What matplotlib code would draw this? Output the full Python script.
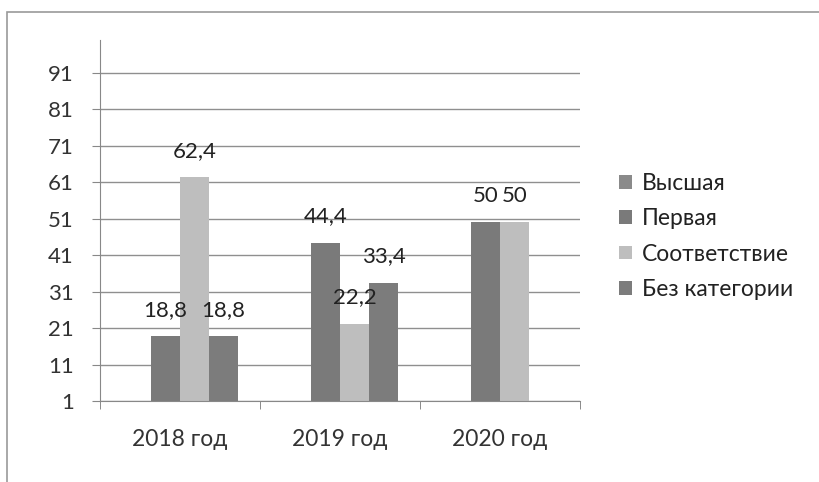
import numpy as np
import matplotlib.pyplot as plt
from matplotlib.patches import Rectangle

plt.rcParams['font.family'] = ['Lato', 'DejaVu Sans']

years = ['2018 год', '2019 год', '2020 год']
series = ['Высшая', 'Первая', 'Соответствие', 'Без категории']
vysshaya = [0, 0, 0]
pervaya = [18.8, 44.4, 50]
sootv = [62.4, 22.2, 50]
bez_kat = [18.8, 33.4, 0]
labels = [
    [None, None, None],
    ['18,8', '44,4', '50'],
    ['62,4', '22,2', '50'],
    ['18,8', '33,4', None],
]
yticks = [1, 11, 21, 31, 41, 51, 61, 71, 81, 91]

colors = ['#8a8a8a', '#7a7a7a', '#bebebe', '#7c7c7c']
values = [vysshaya, pervaya, sootv, bez_kat]

fig = plt.figure(figsize=(8.19, 4.82), dpi=100)
ax = fig.add_axes([100 / 819, 1 - 401 / 482, 480 / 819, 361 / 482])

x = np.arange(len(years))
width = 1 / 5.5
for i, (vals, col, name) in enumerate(zip(values, colors, series)):
    pos = x + (i - 1.5) * width
    bars = ax.bar(pos, vals, width, color=col, label=name)
    for b, v, lab in zip(bars, vals, labels[i]):
        if lab is None:
            continue
        ax.annotate(lab, (b.get_x() + b.get_width() / 2, v),
                    xytext=(0, 19), textcoords='offset points',
                    ha='center', va='center', fontsize=16, color='#222222')

ax.set_xlim(-0.5, 2.5)
ax.set_ylim(1, 100)
ax.set_yticks(yticks)
ax.set_yticklabels([str(t) for t in yticks], fontsize=16, color='#333333')
ax.yaxis.grid(True, color='#8f8f8f', linewidth=1)
ax.set_axisbelow(True)

ax.set_xticks(x)
ax.set_xticklabels(years, fontsize=16.5, color='#333333')
ax.tick_params(axis='x', length=0, pad=20)
ax.set_xticks([-0.5, 0.5, 1.5, 2.5], minor=True)
ax.tick_params(axis='x', which='minor', length=6, color='#777777', direction='out')
ax.tick_params(axis='y', length=6, color='#888888', pad=13)

for s in ['top', 'right']:
    ax.spines[s].set_visible(False)
ax.spines['left'].set_color('#888888')
ax.spines['bottom'].set_color('#888888')

leg = fig.legend(loc='upper left', bbox_to_anchor=(610 / 819, 1 - 164 / 482),
                 frameon=False, fontsize=16.5, handlelength=0.55, handleheight=0.55,
                 handletextpad=0.45, labelspacing=0.62, borderaxespad=0)
for t in leg.get_texts():
    t.set_color('#222222')

fig.patches.append(Rectangle((7 / 819, -0.1), 1.2, 1 - 12 / 482 + 0.1,
                             transform=fig.transFigure, fill=False,
                             edgecolor='#9a9a9a', linewidth=1.2))

fig.savefig('out.png', dpi=100)
